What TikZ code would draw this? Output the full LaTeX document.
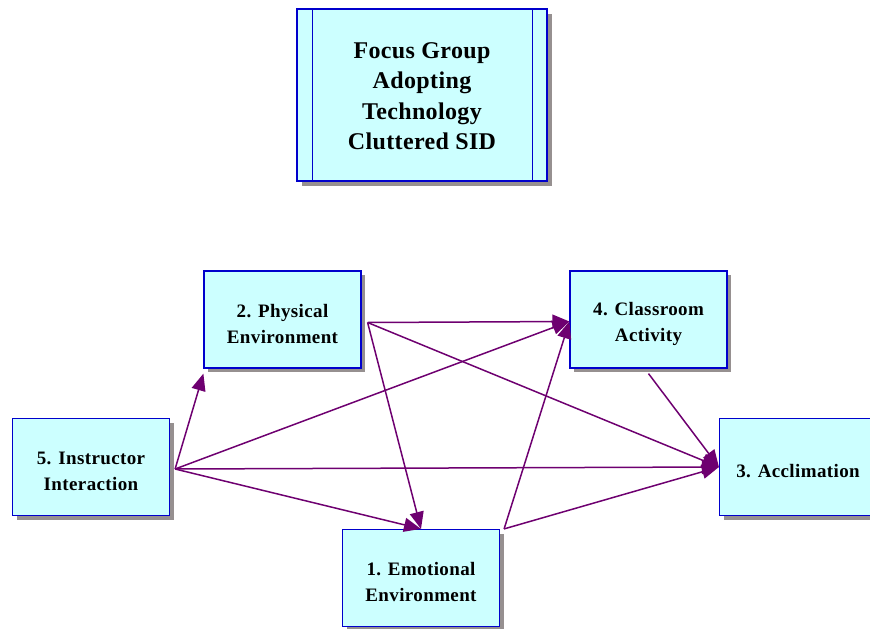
\documentclass[tikz,border=0pt]{standalone}
\usepackage{fontspec}
\setmainfont{Liberation Serif}
\usetikzlibrary{arrows.meta,shadows}
\definecolor{boxfill}{RGB}{204,255,255}
\definecolor{boxline}{RGB}{0,0,204}
\definecolor{shade}{RGB}{150,144,144}
\definecolor{link}{RGB}{110,0,112}
\tikzset{
  factor/.style={draw=boxline, line width=1.2pt, fill=boxfill, rectangle,
    minimum width=157pt, minimum height=97pt,
    drop shadow={shadow xshift=4pt, shadow yshift=-4pt, fill=shade, opacity=1}},
  factortext/.style={align=center, inner sep=0pt,
    font=\bfseries\fontsize{19}{26}\selectfont\addfontfeature{LetterSpace=2}},
  titlebox/.style={draw=boxline, line width=1.2pt, fill=boxfill, rectangle,
    minimum width=250pt, minimum height=172pt,
    drop shadow={shadow xshift=5pt, shadow yshift=-5pt, fill=shade, opacity=1}},
  titletext/.style={align=center, inner sep=0pt,
    font=\bfseries\fontsize{24}{30.5}\selectfont\addfontfeature{LetterSpace=1.5}},
  link/.style={draw=link, line width=1.5pt, -{Triangle[length=17pt,width=14pt]}}
}
\begin{document}
\begin{tikzpicture}[x=1pt,y=-1pt]
\useasboundingbox (0,0) rectangle (870,629);

% title panel with its two inner rules
\node[titlebox] (title) at (422,95) {};
\draw[boxline, line width=1.2pt] ([xshift=16pt]title.north west) -- ([xshift=16pt]title.south west);
\draw[boxline, line width=1.2pt] ([xshift=-15pt]title.north east) -- ([xshift=-15pt]title.south east);
\node[titletext] (titlet) at ([yshift=-1pt]title.center) {Focus Group\\Adopting\\Technology\\Cluttered SID};

% factors
\node[factor] (phy) at (282.5,319.5) {};
\node[factor] (cls) at (648.5,319.5) {};
\node[factor] (ins) at (91,467) {};
\node[factor] (acc) at (798,467) {};
\node[factor] (emo) at (421,578) {};
\node[factortext] (phyt) at ([yshift=-4pt]phy.center) {2. Physical\\Environment};
\node[factortext] (clst) at ([yshift=-4pt]cls.center) {4. Classroom\\Activity};
\node[factortext] (inst) at ([yshift=-4pt]ins.center) {5. Instructor\\Interaction};
\node[factortext] (acct) at ([yshift=-4pt]acc.center) {3. Acclimation};
\node[factortext] (emot) at ([yshift=-4pt]emo.center) {1. Emotional\\Environment};

% connector ends
\coordinate (insout) at ([xshift=5pt,yshift=-2pt]ins.east);
\coordinate (phyout) at ([xshift=6pt,yshift=-3pt]phy.east);
\coordinate (emoout) at ([xshift=4pt]emo.north east);
\coordinate (clsout) at ([yshift=-5pt]cls.south);
\coordinate (phyin) at ([yshift=-5pt]phy.south west);
\coordinate (clsin) at ([yshift=-2pt]cls.west);

% influences
\draw[link] (insout) -- (phyin);
\draw[link] (insout) -- (clsin);
\draw[link] (insout) -- (acc.west);
\draw[link] (insout) -- (emo.north);
\draw[link] (phyout) -- (clsin);
\draw[link] (phyout) -- (acc.west);
\draw[link] (phyout) -- (emo.north);
\draw[link] (emoout) -- (clsin);
\draw[link] (emoout) -- (acc.west);
\draw[link] (clsout) -- (acc.west);
\end{tikzpicture}
\end{document}
